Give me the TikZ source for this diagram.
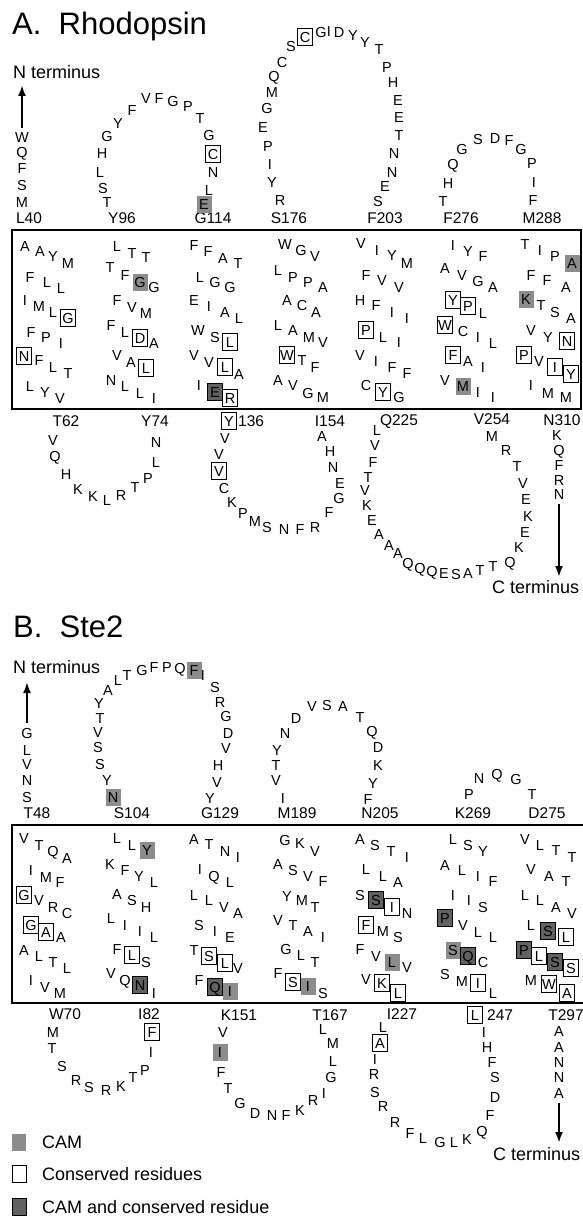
\documentclass[tikz,border=0pt]{standalone}
\usepackage{fontspec}
\setmainfont{Liberation Sans}
\usetikzlibrary{arrows.meta}
\definecolor{camgray}{gray}{0.55}
\definecolor{cacgray}{gray}{0.38}

\begin{document}
\begin{tikzpicture}[x=1pt,y=-1pt,
  res/.style={font=\fontsize{14.5}{14.5}\selectfont,inner sep=0pt,text height=10.4pt,text depth=0pt},
  con/.style={res,draw,line width=0.9pt,minimum width=15pt,minimum height=17pt},
  cam/.style={res,fill=camgray,minimum width=15pt,minimum height=17pt},
  cac/.style={con,fill=cacgray},
  seqno/.style={font=\fontsize{15.5}{15.5}\selectfont,inner sep=0pt,text height=11pt,text depth=0pt},
  endlabel/.style={font=\fontsize{18}{18}\selectfont,inner sep=0pt,anchor=base west},
  paneltitle/.style={font=\fontsize{31}{31}\selectfont,inner sep=0pt,anchor=base west},
  memb/.style={line width=2.5pt},
  termarrow/.style={line width=2pt,-{Latex[length=11pt,width=8pt]}}]
\useasboundingbox (0,0) rectangle (582,1220);

% A. Rhodopsin
\node[paneltitle] (titleA) at (12,35) {A.\ \ Rhodopsin};
\node[endlabel] (ntA) at (13,79) {N terminus};
\draw[memb] (12,230) rectangle (581,409);

\foreach \x/\y/\t/\s [count=\i] in {22/137/W/res,22/152/Q/res,22/168/F/res,22/185/S/res,22/202/M/res}
  \node[\s] (na-\i) at (\x,\y) {\t};
\coordinate (ntipA) at (22,85);
\draw[termarrow] ([yshift=4pt]na-1.north) -- (ntipA);

\node[seqno] (L40) at (29,218) {L40};
\node[seqno] (Y96) at (122,218) {Y96};
\node[seqno] (G114) at (213,218) {G114};
\node[seqno] (S176) at (289,218) {S176};
\node[seqno] (F203) at (385,218) {F203};
\node[seqno] (F276) at (461,218) {F276};
\node[seqno] (M288) at (542,218) {M288};

\foreach \x/\y/\t/\s [count=\i] in {107/202/T/res,103/188/S/res,100/172/L/res,102/153/H/res,107/136/G/res,118/123/Y/res,
  132/110/F/res,146/98/V/res,159/98/F/res,173/101/G/res,188/106/P/res,200/118/T/res,209/135/G/res,213/154/C/con,
  213/172/N/res,209/190/L/res,204/204/E/cam}
  \node[\s] (ea1-\i) at (\x,\y) {\t};
\foreach \x/\y/\t/\s [count=\i] in {280/200/R/res,272/182/Y/res,270/164/I/res,268/146/P/res,263/127/E/res,267/108/G/res,
  272/92/M/res,274/76/Q/res,282/62/C/res,291/46/S/res,305/37/C/con,321/32/G/res,329/31/I/res,339/32/D/res,353/35/Y/res,
  365/42/Y/res,379/49/T/res,387/67/P/res,393/82/H/res,398/100/E/res,399/117/E/res,399/135/T/res,394/153/N/res,
  392/172/N/res,385/186/E/res,378/201/S/res}
  \node[\s] (ea2-\i) at (\x,\y) {\t};
\foreach \x/\y/\t/\s [count=\i] in {443/201/T/res,448/183/H/res,453/164/Q/res,462/149/G/res,478/139/S/res,495/138/D/res,
  509/140/F/res,521/149/G/res,532/163/P/res,534/182/I/res,533/200/F/res}
  \node[\s] (ea3-\i) at (\x,\y) {\t};

\foreach \x/\y/\t/\s [count=\i] in {25/246/A/res,40/251/A/res,53/256/Y/res,68/263/M/res,30/277/F/res,47/282/L/res,61/288/L/res,
  25/300/I/res,39/306/M/res,53/312/L/res,68/318/G/con,31/332/F/res,46/337/P/res,61/343/I/res,24/356/N/con,39/360/F/res,
  53/367/L/res,68/373/T/res,30/386/L/res,45/392/Y/res,60/398/V/res}
  \node[\s] (ha1-\i) at (\x,\y) {\t};
\foreach \x/\y/\t/\s [count=\i] in {117/246/L/res,132/253/T/res,146/257/T/res,110/267/T/res,125/275/F/res,140/282/G/cam,
  154/287/G/res,117/300/F/res,132/307/V/res,146/313/M/res,111/325/F/res,125/332/L/res,140/338/D/con,154/343/A/res,
  117/355/V/res,131/362/A/res,146/368/L/con,111/380/N/res,125/386/L/res,140/393/L/res,154/398/I/res}
  \node[\s] (ha2-\i) at (\x,\y) {\t};
\foreach \x/\y/\t/\s [count=\i] in {194/245/F/res,208/251/F/res,223/258/A/res,238/263/T/res,200/277/L/res,215/282/G/res,
  230/287/G/res,194/300/E/res,209/306/I/res,225/312/A/res,239/318/L/res,198/330/W/res,215/337/S/res,230/342/L/con,
  194/355/V/res,209/362/V/res,225/367/L/con,239/374/A/res,199/385/I/res,215/392/E/cac,230/398/R/con}
  \node[\s] (ha3-\i) at (\x,\y) {\t};
\foreach \x/\y/\t/\s [count=\i] in {285/244/W/res,301/250/G/res,315/256/V/res,278/270/L/res,293/277/P/res,308/282/P/res,
  323/287/A/res,287/300/A/res,302/305/C/res,316/312/A/res,278/325/L/res,293/330/A/res,309/337/M/res,323/342/V/res,
  287/355/W/con,302/360/T/res,315/367/F/res,278/380/A/res,293/385/V/res,308/393/G/res,323/397/M/res}
  \node[\s] (ha4-\i) at (\x,\y) {\t};
\foreach \x/\y/\t/\s [count=\i] in {361/243/V/res,377/250/I/res,392/255/Y/res,407/263/M/res,366/275/F/res,382/280/V/res,
  399/287/V/res,360/300/H/res,376/305/F/res,392/312/I/res,407/318/I/res,366/330/P/con,383/337/L/res,399/342/I/res,
  360/355/V/res,376/361/I/res,392/367/F/res,407/373/F/res,366/385/C/res,383/392/Y/con,399/397/G/res}
  \node[\s] (ha5-\i) at (\x,\y) {\t};
\foreach \x/\y/\t/\s [count=\i] in {453/245/I/res,468/251/Y/res,483/256/F/res,445/268/A/res,462/275/V/res,478/281/G/res,
  493/287/A/res,453/300/Y/con,468/306/P/con,483/313/L/res,445/325/W/con,463/331/C/res,478/337/I/res,493/343/L/res,
  453/355/F/con,468/361/A/res,483/367/I/res,445/380/V/res,463/386/M/cam,478/392/I/res,493/397/I/res}
  \node[\s] (ha6-\i) at (\x,\y) {\t};
\foreach \x/\y/\t/\s [count=\i] in {525/244/T/res,540/250/I/res,555/256/P/res,572/263/A/cam,531/275/F/res,547/280/F/res,
  566/287/A/res,526/299/K/cam,541/305/T/res,555/312/S/res,571/318/A/res,531/330/V/res,548/337/Y/res,567/341/N/con,
  524/355/P/con,539/361/V/res,555/367/I/con,571/374/Y/con,531/385/I/res,548/393/M/res,566/397/M/res}
  \node[\s] (ha7-\i) at (\x,\y) {\t};

\node[seqno] (T62) at (66,421) {T62};
\node[seqno] (Y74) at (155,421) {Y74};
\node[con] (Y136) at (229,421) {Y};
\node[seqno,anchor=west] (n136) at (238,421) {136};
\node[seqno] (I154) at (330,421) {I154};
\node[seqno] (Q225) at (399,420) {Q225};
\node[seqno] (V254) at (492,419) {V254};
\node[seqno] (N310) at (562,420) {N310};

\foreach \x/\y/\t/\s [count=\i] in {53/440/V/res,55/456/Q/res,66/474/H/res,78/489/K/res,93/496/K/res,107/500/L/res,
  121/495/R/res,135/487/T/res,148/478/P/res,156/462/L/res,156/442/N/res}
  \node[\s] (ca1-\i) at (\x,\y) {\t};
\foreach \x/\y/\t/\s [count=\i] in {225/438/V/res,219/454/V/res,219/471/V/con,224/488/C/res,232/502/K/res,243/513/P/res,
  255/521/M/res,267/527/S/res,284/529/N/res,300/529/F/res,315/527/R/res,329/512/F/res,339/498/G/res,340/483/E/res,
  333/467/N/res,330/451/H/res,322/436/A/res}
  \node[\s] (ca2-\i) at (\x,\y) {\t};
\foreach \x/\y/\t/\s [count=\i] in {377/430/L/res,375/445/V/res,373/462/F/res,368/477/T/res,365/490/V/res,367/505/K/res,
  372/520/E/res,379/534/A/res,389/545/A/res,398/553/A/res,408/563/Q/res,420/568/Q/res,432/571/Q/res,444/573/E/res,
  456/574/S/res,468/573/A/res,480/570/T/res,493/566/T/res,510/562/Q/res,519/547/K/res,525/532/E/res,528/516/K/res,
  526/499/E/res,523/483/V/res,517/466/T/res,506/450/R/res,492/436/M/res}
  \node[\s] (ca3-\i) at (\x,\y) {\t};

\foreach \x/\y/\t/\s [count=\i] in {557/435/K/res,559/450/Q/res,559/465/F/res,559/480/R/res,559/494/N/res}
  \node[\s] (ta-\i) at (\x,\y) {\t};
\node[endlabel] (ctA) at (492,593) {C terminus};
\coordinate (ctipA) at (559,577);
\draw[termarrow] ([yshift=-5pt]ta-5.south) -- (ctipA);

% B. Ste2
\node[paneltitle] (titleB) at (13,637) {B.\ \ Ste2};
\node[endlabel] (ntB) at (13,673) {N terminus};
\draw[memb] (12,825) rectangle (592,1003);

\foreach \x/\y/\t/\s [count=\i] in {27/733/G/res,27/750/L/res,27/764/V/res,27/780/N/res,27/797/S/res}
  \node[\s] (nb-\i) at (\x,\y) {\t};
\coordinate (ntipB) at (27,682);
\draw[termarrow] ([yshift=5pt]nb-1.north) -- (ntipB);

\node[seqno] (T48) at (37,813) {T48};
\node[seqno] (S104) at (132,813) {S104};
\node[seqno] (G129) at (220,813) {G129};
\node[seqno] (M189) at (297,813) {M189};
\node[seqno] (N205) at (380,813) {N205};
\node[seqno] (K269) at (473,813) {K269};
\node[seqno] (D275) at (547,813) {D275};

\foreach \x/\y/\t/\s [count=\i] in {113/797/N/cam,107/780/Y/res,100/764/S/res,98/747/S/res,98/732/V/res,100/718/T/res,
  99/703/Y/res,108/690/A/res,118/680/L/res,127/675/T/res,142/670/G/res,154/667/F/res,167/667/P/res,180/668/Q/res,
  194/670/F/cam,203/675/I/res,215/687/S/res,220/702/R/res,226/716/G/res,228/733/D/res,226/748/V/res,218/765/H/res,
  217/782/V/res,210/798/Y/res}
  \node[\s] (eb1-\i) at (\x,\y) {\t};
\foreach \x/\y/\t/\s [count=\i] in {283/798/I/res,276/780/V/res,276/765/T/res,277/750/Y/res,285/733/N/res,296/718/D/res,
  312/706/V/res,327/705/S/res,343/706/A/res,360/717/T/res,372/731/Q/res,378/747/D/res,378/765/K/res,373/783/Y/res,
  368/799/F/res}
  \node[\s] (eb2-\i) at (\x,\y) {\t};
\foreach \x/\y/\t/\s [count=\i] in {469/794/P/res,479/778/N/res,497/774/Q/res,516/779/G/res,532/794/T/res}
  \node[\s] (eb3-\i) at (\x,\y) {\t};

\foreach \x/\y/\t/\s [count=\i] in {24/838/V/res,39/845/T/res,53/851/Q/res,67/858/A/res,31/870/I/res,46/877/M/res,
  60/882/F/res,24/895/G/con,39/900/V/res,53/907/R/res,67/913/C/res,31/925/G/con,46/932/A/con,61/937/A/res,24/950/A/res,
  39/956/L/res,53/962/T/res,67/968/L/res,31/980/I/res,45/987/V/res,60/993/M/res}
  \node[\s] (hb1-\i) at (\x,\y) {\t};
\foreach \x/\y/\t/\s [count=\i] in {117/838/L/res,132/845/L/res,147/850/Y/cam,110/864/K/res,125/870/F/res,139/876/Y/res,
  154/882/L/res,117/894/A/res,132/900/S/res,146/907/H/res,111/918/L/res,125/925/I/res,140/931/I/res,154/937/L/res,
  117/949/F/res,132/955/L/con,146/962/S/res,111/973/V/res,125/980/Q/res,140/985/N/cac,154/993/I/res}
  \node[\s] (hb2-\i) at (\x,\y) {\t};
\foreach \x/\y/\t/\s [count=\i] in {194/839/A/res,209/844/T/res,225/851/N/res,238/857/I/res,200/869/I/res,214/876/Q/res,
  230/882/L/res,194/895/L/res,209/900/L/res,224/907/V/res,238/913/A/res,199/925/S/res,215/931/I/res,230/937/E/res,
  194/950/T/res,209/956/S/con,225/963/L/con,238/968/V/res,199/980/F/res,215/987/Q/cac,230/991/I/cam}
  \node[\s] (hb3-\i) at (\x,\y) {\t};
\foreach \x/\y/\t/\s [count=\i] in {285/840/G/res,300/843/K/res,315/851/V/res,278/864/A/res,293/870/S/res,308/876/V/res,
  323/881/F/res,287/896/Y/res,302/900/M/res,315/907/T/res,278/920/V/res,293/925/T/res,308/931/A/res,323/937/I/res,
  286/949/G/res,301/955/L/res,315/962/T/res,278/973/F/res,293/982/S/con,308/986/I/cam,323/993/S/res}
  \node[\s] (hb4-\i) at (\x,\y) {\t};
\foreach \x/\y/\t/\s [count=\i] in {360/839/A/res,375/845/S/res,391/851/T/res,407/857/I/res,366/869/L/res,383/876/L/res,
  398/882/A/res,360/895/S/res,376/900/S/cac,392/907/I/con,407/913/N/res,366/925/F/con,383/931/M/res,398/937/S/res,
  360/949/F/res,376/956/V/res,392/962/L/cam,407/967/V/res,366/979/V/res,382/983/K/con,398/993/L/con}
  \node[\s] (hb5-\i) at (\x,\y) {\t};
\foreach \x/\y/\t/\s [count=\i] in {453/839/L/res,468/845/S/res,483/851/Y/res,445/865/A/res,462/870/L/res,478/876/I/res,
  493/881/F/res,453/895/I/res,469/900/I/res,483/907/S/res,445/918/P/cac,463/925/V/res,478/932/L/res,493/937/L/res,
  453/950/S/cam,468/956/Q/cac,483/962/C/res,445/974/S/res,462/981/M/res,478/983/I/con,493/993/L/res}
  \node[\s] (hb6-\i) at (\x,\y) {\t};
\foreach \x/\y/\t/\s [count=\i] in {525/839/V/res,540/845/L/res,556/850/T/res,572/857/T/res,531/869/V/res,549/876/A/res,
  566/881/T/res,525/895/L/res,540/900/L/res,556/907/A/res,572/913/V/res,531/925/L/res,548/931/S/cac,566/937/L/con,
  524/950/P/cac,539/956/L/con,555/962/S/cac,571/968/S/con,531/980/M/res,549/984/W/con,567/993/A/con}
  \node[\s] (hb7-\i) at (\x,\y) {\t};

\node[seqno] (W70) at (65,1014) {W70};
\node[seqno] (I82) at (149,1014) {I82};
\node[seqno] (K151) at (239,1015) {K151};
\node[seqno] (T167) at (330,1015) {T167};
\node[seqno] (I227) at (402,1014) {I227};
\node[con] (L247) at (475,1015) {L};
\node[seqno,anchor=west] (n247) at (487,1015) {247};
\node[seqno] (T297) at (566,1015) {T297};

\foreach \x/\y/\t/\s [count=\i] in {53/1032/M/res,52/1048/T/res,62/1066/S/res,76/1080/R/res,89/1087/S/res,106/1090/R/res,
  121/1086/K/res,133/1077/T/res,145/1070/P/res,151/1052/I/res,152/1032/F/con}
  \node[\s] (cb1-\i) at (\x,\y) {\t};
\foreach \x/\y/\t/\s [count=\i] in {223/1032/V/res,220/1052/I/cam,221/1072/F/res,228/1088/T/res,240/1103/G/res,
  255/1113/D/res,272/1115/N/res,286/1115/F/res,300/1110/K/res,313/1100/R/res,324/1093/I/res,331/1077/G/res,
  333/1061/L/res,333/1043/M/res,323/1029/L/res}
  \node[\s] (cb2-\i) at (\x,\y) {\t};
\foreach \x/\y/\t/\s [count=\i] in {383/1027/L/res,380/1043/A/con,375/1059/I/res,374/1074/R/res,375/1092/S/res,
  383/1106/R/res,395/1122/R/res,410/1133/F/res,423/1138/L/res,440/1142/G/res,454/1142/L/res,467/1139/K/res,
  482/1131/Q/res,490/1115/F/res,495/1097/D/res,495/1077/S/res,492/1062/F/res,487/1047/H/res,484/1032/I/res}
  \node[\s] (cb3-\i) at (\x,\y) {\t};

\foreach \x/\y/\t/\s [count=\i] in {559/1031/A/res,559/1047/A/res,559/1062/N/res,559/1077/N/res,559/1093/A/res}
  \node[\s] (tb-\i) at (\x,\y) {\t};
\node[endlabel] (ctB) at (493,1160) {C terminus};
\coordinate (ctipB) at (559,1143);
\draw[termarrow] ([yshift=-5pt]tb-5.south) -- (ctipB);

% key
\node[cam,minimum width=14pt] (keycam) at (19,1142) {};
\node[endlabel] (keycamtext) at (42,1148) {CAM};
\node[con,minimum width=14pt] (keycon) at (19,1174) {};
\node[endlabel] (keycontext) at (42,1180) {Conserved residues};
\node[cac,minimum width=14pt] (keycac) at (19,1207) {};
\node[endlabel] (keycactext) at (42,1213) {CAM and conserved residue};
\end{tikzpicture}
\end{document}
